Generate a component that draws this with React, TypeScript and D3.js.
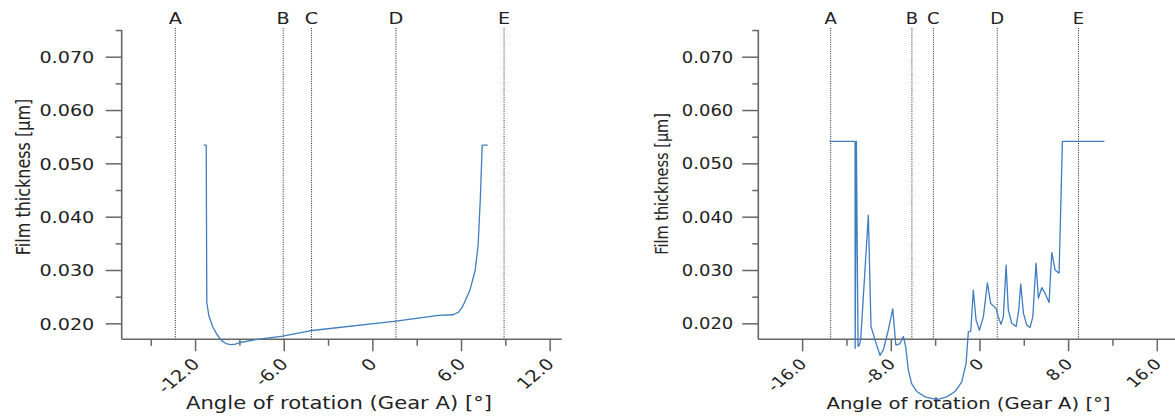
import React from "react";
import * as d3 from "d3";

// ---------- data ----------
const leftAngle = [-11.45, -11.28, -11.24, -11.1, -10.85, -10.55, -10.25, -9.95, -9.6, -9.3, -8.98, -7.82, -6.1, -4.26, 1.57, 4.45, 5.43, 5.8, 6.02, 6.2, 6.58, 6.92, 7.12, 7.27, 7.4, 7.77];
const leftFilm = [0.0535, 0.0535, 0.0240, 0.0215, 0.0195, 0.0180, 0.0169, 0.0163, 0.0161, 0.0162, 0.0165, 0.0171, 0.0177, 0.0187, 0.0205, 0.0216, 0.0217, 0.0222, 0.0230, 0.0240, 0.0264, 0.0300, 0.0346, 0.0433, 0.0535, 0.0535];

const rightAngle = [-13.6, -11.27, -11.26, -11.15, -11.0, -10.89, -10.76, -10.07, -9.83, -9.47, -9.02, -8.72, -8.27, -7.87, -7.6, -7.57, -7.21, -6.91, -6.7, -6.46, -6.16, -5.7, -4.95, -3.9, -3.0, -2.25, -1.64, -1.25, -1.05, -0.83, -0.6, -0.35, -0.05, 0.31, 0.67, 0.97, 1.45, 1.66, 1.9, 2.11, 2.36, 2.56, 2.87, 3.26, 3.5, 3.68, 3.92, 4.22, 4.52, 4.77, 5.06, 5.27, 5.58, 5.88, 6.24, 6.48, 6.78, 7.14, 7.44, 11.23];
const rightFilm = [0.0542, 0.0542, 0.0154, 0.0542, 0.0158, 0.0160, 0.0170, 0.0404, 0.0195, 0.0170, 0.0141, 0.0151, 0.0188, 0.0228, 0.0163, 0.0160, 0.0163, 0.0176, 0.0157, 0.0113, 0.0088, 0.0073, 0.0063, 0.0058, 0.0063, 0.0073, 0.0091, 0.0126, 0.0185, 0.0186, 0.0263, 0.0207, 0.0188, 0.0213, 0.0277, 0.0238, 0.0229, 0.0213, 0.0199, 0.0213, 0.0310, 0.0226, 0.0201, 0.0195, 0.0226, 0.0275, 0.0220, 0.0198, 0.0193, 0.0213, 0.0314, 0.0248, 0.0268, 0.0257, 0.0240, 0.0334, 0.0301, 0.0295, 0.0542, 0.0542];

const markerNames = ["A", "B", "C", "D", "E"];
const leftMarkers = [-13.37, -6.07, -4.15, 1.56, 8.88];
const rightMarkers = [-13.47, -6.14, -4.2, 1.56, 8.89];

const leftXMajor = [-12, -6, 0, 6, 12];
const leftXMinor = [-15, -9, -3, 3, 9];
const leftXLabels = ["-12.0", "-6.0", "0", "6.0", "12.0"];
const rightXMajor = [-16, -8, 0, 8, 16];
const rightXMinor = [-12, -4, 4, 12];
const rightXLabels = ["-16.0", "-8.0", "0", "8.0", "16.0"];

const yMajor = [0.02, 0.03, 0.04, 0.05, 0.06, 0.07];
const yMinor = [0.025, 0.035, 0.045, 0.055, 0.065, 0.075];
const yLabels = ["0.020", "0.030", "0.040", "0.050", "0.060", "0.070"];

const yTitle = "Film thickness [µm]";
const xTitle = "Angle of rotation (Gear A) [°]";

// ---------- drawing ----------
const FONT = "DejaVu Sans, Verdana, sans-serif";
const TXT = "#222";
const AXIS = "#666";
const LINE = "#3f7cc0";
const SX = 1.2;

type PanelProps = {
  xDomain: [number, number];
  xRange: [number, number];
  angle: number[];
  film: number[];
  markers: number[];
  xMajor: number[];
  xMinor: number[];
  xLabels: string[];
  fs: number;
  yLabelGap: number;
  yTitleX: number;
  yTitleY: number;
  yTitleFs: number;
  xTitleX: number;
  xTitleLen: number;
  xTitleFs: number;
};

function Panel(p: PanelProps) {
  const x = d3.scaleLinear().domain(p.xDomain).range(p.xRange);
  const y = d3.scaleLinear().domain([0.0171, 0.0751]).range([339.3, 30]);
  const x0 = p.xRange[0];
  const yb = y(0.0171);
  const pts: [number, number][] = p.angle.map((a, i) => [a, p.film[i]]);
  const line = d3
    .line<[number, number]>()
    .x((d) => x(d[0]))
    .y((d) => y(d[1]))
    .curve(d3.curveLinear);
  return (
    <g>
      {p.markers.map((m, i) => (
        <g key={"m" + i}>
          <line x1={x(m)} x2={x(m)} y1={28} y2={yb} stroke="#222" strokeWidth={1} strokeDasharray="1,1.3" />
          <text
            transform={`translate(${x(m)},24) scale(${SX},1)`}
            textAnchor="middle"
            fontFamily={FONT}
            fontSize={p.fs}
            fill={TXT}
          >
            {markerNames[i]}
          </text>
        </g>
      ))}
      <line x1={x0} x2={x0} y1={y(0.0751)} y2={yb} stroke={AXIS} strokeWidth={1.6} />
      {yMajor.map((v, i) => (
        <g key={"ym" + i}>
          <line x1={x0 - 16} x2={x0} y1={y(v)} y2={y(v)} stroke={AXIS} strokeWidth={1.5} />
          <text
            transform={`translate(${x0 - p.yLabelGap},${y(v)}) scale(${SX},1)`}
            textAnchor="end"
            dy="0.36em"
            fontFamily={FONT}
            fontSize={p.fs}
            fill={TXT}
          >
            {yLabels[i]}
          </text>
        </g>
      ))}
      {yMinor.map((v, i) => (
        <line key={"yn" + i} x1={x0 - 6} x2={x0} y1={y(v)} y2={y(v)} stroke={AXIS} strokeWidth={1.5} />
      ))}
      <line x1={x0} x2={p.xRange[1]} y1={yb} y2={yb} stroke={AXIS} strokeWidth={1.6} />
      {p.xMajor.map((v, i) => (
        <g key={"xm" + i}>
          <line x1={x(v)} x2={x(v)} y1={yb} y2={yb + 12} stroke={AXIS} strokeWidth={1.5} />
          <text
            transform={`translate(${x(v) + 5},365) scale(${SX},1) rotate(-45)`}
            textAnchor="end"
            fontFamily={FONT}
            fontSize={p.fs}
            fill={TXT}
          >
            {p.xLabels[i]}
          </text>
        </g>
      ))}
      {p.xMinor.map((v, i) => (
        <line key={"xn" + i} x1={x(v)} x2={x(v)} y1={yb} y2={yb + 6.5} stroke={AXIS} strokeWidth={1.5} />
      ))}
      <text
        transform={`translate(${p.yTitleX},${p.yTitleY}) scale(${SX},1) rotate(-90)`}
        textAnchor="middle"
        fontFamily={FONT}
        fontSize={p.yTitleFs}
        fill={TXT}
      >
        {yTitle}
      </text>
      <text
        x={p.xTitleX - p.xTitleLen / 2}
        y={409}
        textLength={p.xTitleLen}
        lengthAdjust="spacingAndGlyphs"
        fontFamily={FONT}
        fontSize={p.xTitleFs}
        fill={TXT}
      >
        {xTitle}
      </text>
      <path d={line(pts) || ""} fill="none" stroke={LINE} strokeWidth={1.3} strokeLinejoin="round" />
    </g>
  );
}

export default function App() {
  return (
    <div style={{ position: "absolute", left: 0, top: 0 }}>
      <svg width={1175} height={418} style={{ display: "block", background: "#fff" }}>
        <Panel
          xDomain={[-17, 12.78]}
          xRange={[121.7, 561.7]}
          angle={leftAngle}
          film={leftFilm}
          markers={leftMarkers}
          xMajor={leftXMajor}
          xMinor={leftXMinor}
          xLabels={leftXLabels}
          fs={16}
          yLabelGap={27.4}
          yTitleX={30}
          yTitleY={177}
          yTitleFs={16}
          xTitleX={339}
          xTitleLen={306}
          xTitleFs={17}
        />
        <Panel
          xDomain={[-20, 17.6]}
          xRange={[758.3, 1175]}
          angle={rightAngle}
          film={rightFilm}
          markers={rightMarkers}
          xMajor={rightXMajor}
          xMinor={rightXMinor}
          xLabels={rightXLabels}
          fs={15}
          yLabelGap={25}
          yTitleX={668}
          yTitleY={184}
          yTitleFs={14.5}
          xTitleX={968.5}
          xTitleLen={284}
          xTitleFs={16}
        />
      </svg>
    </div>
  );
}
